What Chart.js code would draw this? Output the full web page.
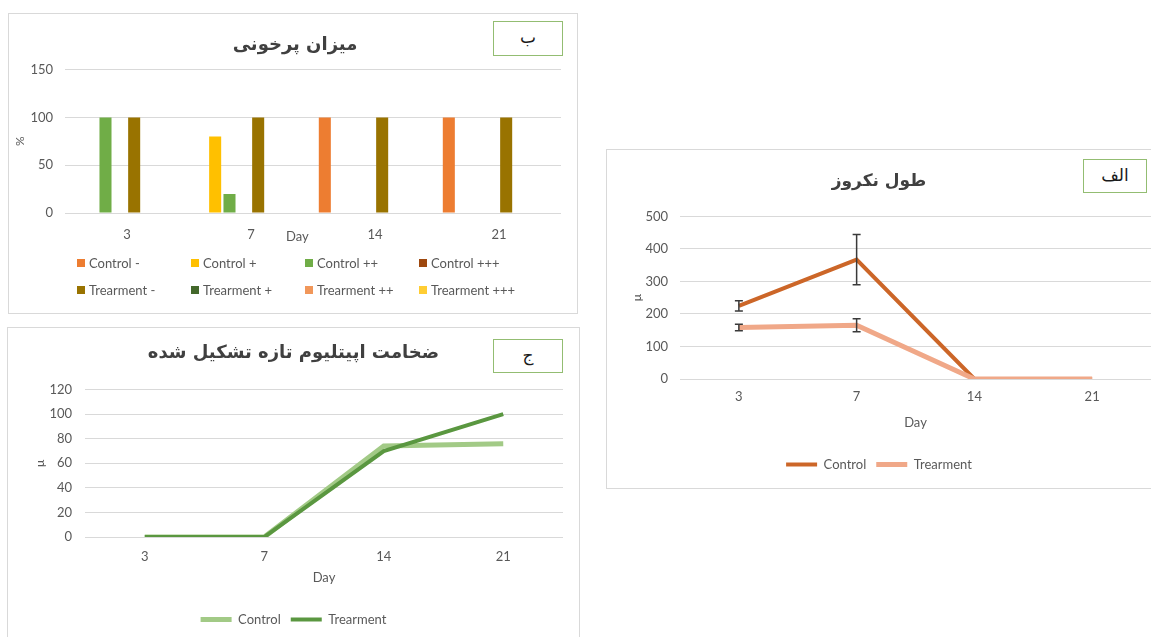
<!DOCTYPE html>
<html>
<head>
<meta charset="utf-8">
<script src="https://cdn.jsdelivr.net/npm/chart.js@4.4.0/dist/chart.umd.min.js"></script>
<style>
  html, body { margin: 0; padding: 0; background: #fff; }
  body { position: relative; width: 1151px; height: 637px; overflow: hidden; font-family: Lato, sans-serif; color: #595959; }
  .panel { position: absolute; border: 1px solid #d9d9d9; background: #fff; }
  .panel canvas { position: absolute; left: 0; top: 0; }
  .tag { position: absolute; border: 1px solid #93bd72; background: #fff; font-family: "DejaVu Sans", sans-serif;
         font-size: 17px; color: #1a1a1a; text-align: center; direction: rtl; box-sizing: border-box; }
  .daylbl { position: absolute; font-size: 13px; }
  #legendB { position: absolute; left: 77px; top: 254px; display: grid; grid-template-columns: repeat(4, 114px); grid-auto-rows: 27px; font-size: 13px; }
  #legendB span.item { display: flex; align-items: center; height: 18px; white-space: nowrap; }
  #legendB i { display: inline-block; width: 8px; height: 8px; margin-right: 4px; }
</style>
</head>
<body>

<!-- ب : میزان پرخونی -->
<div class="panel" style="left:8px; top:13px; width:568px; height:299px;">
  <canvas id="chartB" width="568" height="299"></canvas>
</div>
<div class="tag" style="left:493px; top:21px; width:70px; height:35px; line-height:31px;">ب</div>
<div class="daylbl" style="left:286px; top:228px;">Day</div>
<div id="legendB"></div>

<!-- الف : طول نکروز -->
<div class="panel" style="left:606px; top:149px; width:560px; height:338px;">
  <canvas id="chartA" width="560" height="338"></canvas>
</div>
<div class="tag" style="left:1083px; top:159px; width:64px; height:34px; line-height:30px;">الف</div>

<!-- ج : ضخامت اپیتلیوم -->
<div class="panel" style="left:7px; top:327px; width:571px; height:315px;">
  <canvas id="chartC" width="571" height="315"></canvas>
</div>
<div class="tag" style="left:493px; top:339px; width:70px; height:34px; line-height:30px;">ج</div>

<script>
// ---------- data ----------
const days = ['3', '7', '14', '21'];

// ب : percent of hyperaemia grades per day
const hyperLabels = ['Control -', 'Control +', 'Control ++', 'Control +++', 'Trearment -', 'Trearment +', 'Trearment ++', 'Trearment +++'];
const hyperColors = ['#ED7D31', '#FFC000', '#70AD47', '#9E480E', '#997300', '#43682B', '#F1975A', '#FFCD33'];
const controlMinus = [0, 0, 100, 100];
const controlPlus = [0, 80, 0, 0];
const controlPlus2 = [100, 20, 0, 0];
const controlPlus3 = [0, 0, 0, 0];
const treatMinus = [100, 100, 100, 100];
const treatPlus = [0, 0, 0, 0];
const treatPlus2 = [0, 0, 0, 0];
const treatPlus3 = [0, 0, 0, 0];
const hyperTicks = [0, 50, 100, 150];

// الف : necrosis length (μ) with error bars
const necroControl = [225, 367, 0, 0];
const necroControlErr = [16, 77, 0, 0];
const necroTreat = [158, 165, 0, 0];
const necroTreatErr = [10, 20, 0, 0];
const necroTicks = [0, 100, 200, 300, 400, 500];

// ج : new epithelium thickness (μ)
const epiControl = [0, 0, 74, 76];
const epiTreat = [0, 0, 70, 100];
const epiTicks = [0, 20, 40, 60, 80, 100, 120];

// ---------- defaults ----------
Chart.defaults.font.family = 'Lato, "DejaVu Sans", sans-serif';
Chart.defaults.font.size = 13;
Chart.defaults.color = '#595959';
Chart.defaults.animation = false;

function titleFont(size) {
  return { family: '"DejaVu Sans", sans-serif', size: size, weight: 'bold' };
}

// error bars drawn from the dataset's errors array through the y scale
const errorBars = {
  id: 'errorBars',
  afterDatasetsDraw(chart) {
    const ctx = chart.ctx;
    const y = chart.scales.y;
    chart.data.datasets.forEach((ds, i) => {
      if (!ds.errors) return;
      chart.getDatasetMeta(i).data.forEach((pt, j) => {
        const e = ds.errors[j];
        if (!e) return;
        const t = y.getPixelForValue(ds.data[j] + e);
        const b = y.getPixelForValue(ds.data[j] - e);
        ctx.save();
        ctx.strokeStyle = '#3a3a3a';
        ctx.lineWidth = 1.5;
        ctx.beginPath();
        ctx.moveTo(pt.x, t); ctx.lineTo(pt.x, b);
        ctx.moveTo(pt.x - 4, t); ctx.lineTo(pt.x + 4, t);
        ctx.moveTo(pt.x - 4, b); ctx.lineTo(pt.x + 4, b);
        ctx.stroke();
        ctx.restore();
      });
    });
  }
};

function yAxis(ticks, width, tickPad, titleText, titlePad) {
  return {
    min: ticks[0], max: ticks[ticks.length - 1],
    ticks: { stepSize: ticks[1] - ticks[0], padding: tickPad },
    grid: { color: '#d9d9d9', drawTicks: false },
    border: { display: false },
    title: { display: true, text: titleText, font: { size: 12 }, padding: { top: titlePad, bottom: 0 } },
    afterFit: (s) => { s.width = width; }
  };
}

// ---------- ب : bar chart ----------
const hyperSeries = [controlMinus, controlPlus, controlPlus2, controlPlus3, treatMinus, treatPlus, treatPlus2, treatPlus3];
new Chart(document.getElementById('chartB'), {
  type: 'bar',
  data: {
    labels: days,
    datasets: hyperSeries.map((d, i) => ({
      label: hyperLabels[i],
      data: d,
      backgroundColor: hyperColors[i],
      categoryPercentage: 0.925,
      barPercentage: 0.84
    }))
  },
  options: {
    responsive: false,
    layout: { padding: { left: 20, right: 16, top: 0, bottom: 66 } },
    plugins: {
      legend: { display: false },
      tooltip: { enabled: false },
      title: { display: true, text: 'میزان پرخونی', font: titleFont(18), color: '#404040', padding: { top: 21, bottom: 13 } }
    },
    scales: {
      x: {
        grid: { display: false, drawTicks: false },
        border: { display: false },
        ticks: { padding: 14 },
        afterFit: (s) => { s.height = 34; }
      },
      y: yAxis(hyperTicks, 36, 12, '%', -16)
    }
  }
});

// HTML legend for ب (fixed columns like the original)
const legendB = document.getElementById('legendB');
hyperLabels.forEach((lab, i) => {
  const it = document.createElement('span');
  it.className = 'item';
  it.innerHTML = '<i style="background:' + hyperColors[i] + '"></i>' + lab;
  legendB.appendChild(it);
});

// ---------- line charts ----------
function lineChart(id, opts) {
  return new Chart(document.getElementById(id), {
    type: 'line',
    data: {
      labels: days,
      datasets: [
        { label: 'Control', data: opts.control, errors: opts.controlErr, borderColor: opts.colors[0], backgroundColor: opts.colors[0],
          borderWidth: opts.widths[0], pointRadius: 0, tension: 0, order: 1 },
        { label: 'Trearment', data: opts.treat, errors: opts.treatErr, borderColor: opts.colors[1], backgroundColor: opts.colors[1],
          borderWidth: opts.widths[1], pointRadius: 0, tension: 0, order: 0 }
      ]
    },
    options: {
      responsive: false,
      layout: { padding: { left: opts.padLeft, right: 16, top: 0, bottom: opts.padBottom } },
      plugins: {
        tooltip: { enabled: false },
        title: { display: true, text: opts.title, font: titleFont(opts.titleSize), color: '#404040', padding: opts.titlePad },
        legend: {
          position: 'bottom',
          labels: {
            usePointStyle: true, pointStyle: 'line', pointStyleWidth: 31, padding: 10,
            sort: (a, b) => a.datasetIndex - b.datasetIndex
          }
        }
      },
      scales: {
        x: {
          offset: true,
          grid: { display: false, drawTicks: false },
          border: { display: false },
          ticks: { padding: opts.xTickPad },
          title: { display: true, text: 'Day', font: { size: 13 }, padding: { top: 0, bottom: opts.dayPad } },
          afterFit: (s) => { s.height = opts.xHeight; }
        },
        y: yAxis(opts.ticks, opts.yWidth, opts.yTickPad, 'μ', opts.yTitlePad)
      }
    },
    plugins: [errorBars]
  });
}

lineChart('chartA', {
  title: 'طول نکروز', titleSize: 17,
  control: necroControl, controlErr: necroControlErr,
  treat: necroTreat, treatErr: necroTreatErr,
  colors: ['#CC6628', '#F0A888'], widths: [4, 5],
  ticks: necroTicks,
  titlePad: { top: 21, bottom: 25 },
  padLeft: 0, padBottom: 7, xHeight: 69, xTickPad: 10, dayPad: 17,
  yWidth: 73, yTickPad: 12, yTitlePad: 23
});

lineChart('chartC', {
  title: 'ضخامت اپیتلیوم تازه تشکیل شده', titleSize: 18,
  control: epiControl, treat: epiTreat,
  colors: ['#A2CA86', '#5A9740'], widths: [5, 4],
  ticks: epiTicks,
  titlePad: { top: 15, bottom: 25 },
  padLeft: 16, padBottom: 7, xHeight: 66, xTickPad: 12, dayPad: 17,
  yWidth: 61, yTickPad: 13, yTitlePad: 9
});
</script>
</body>
</html>
